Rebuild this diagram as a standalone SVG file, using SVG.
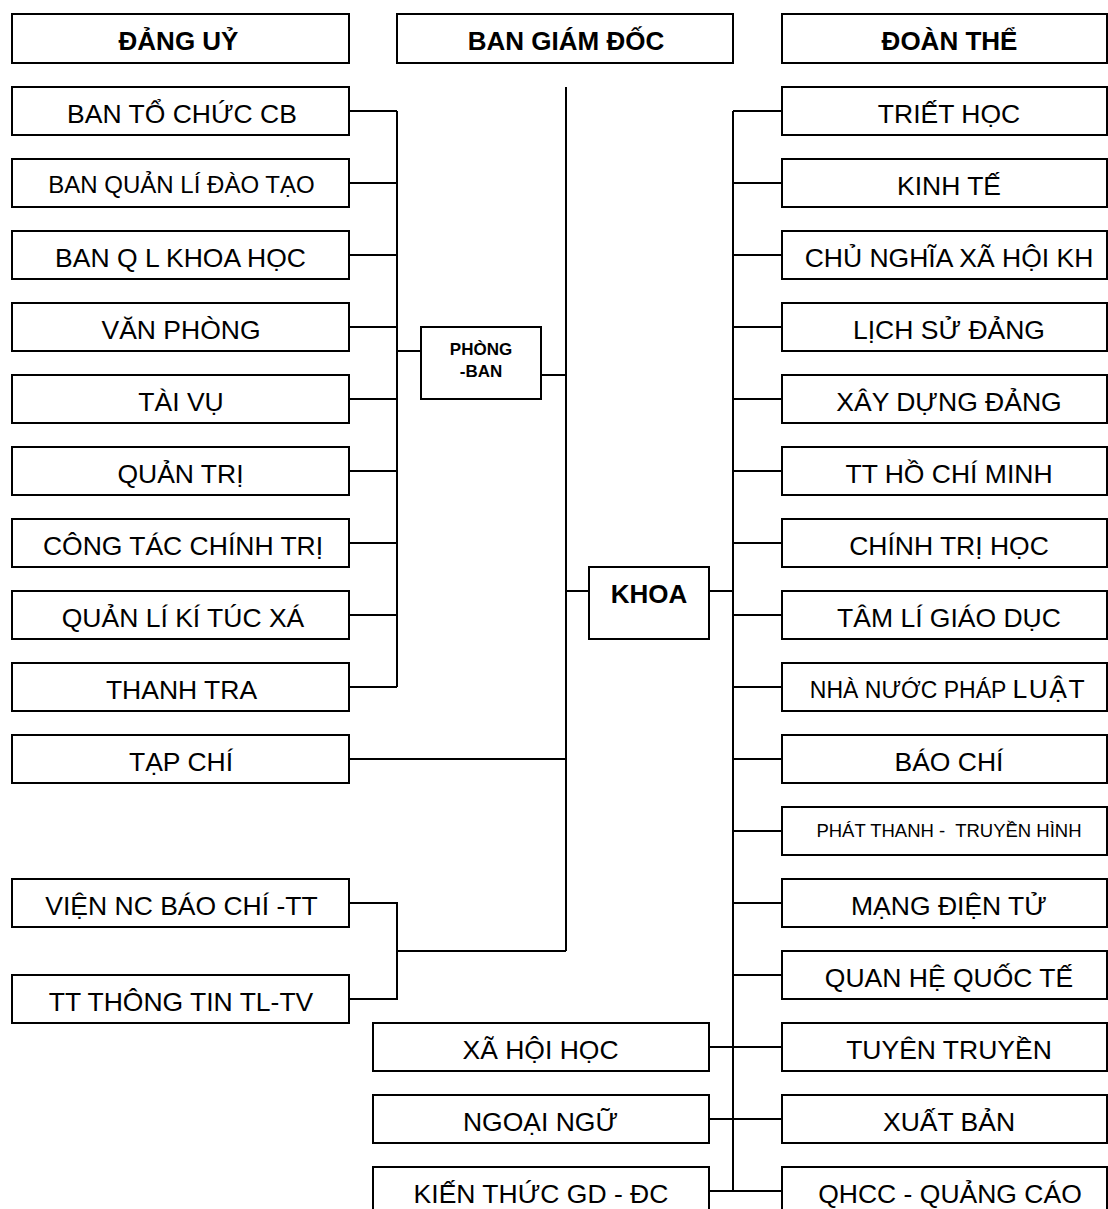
<svg xmlns="http://www.w3.org/2000/svg" width="1108" height="1209" viewBox="0 0 1108 1209">
<style>
.box{fill:#fff;stroke:#000;stroke-width:2}
.ln{fill:none;stroke:#000;stroke-width:2}
text{font-family:"Liberation Sans",Arial,"Noto Sans",sans-serif;font-size:26.5px;text-anchor:middle;fill:#000}
.b{font-weight:bold;font-size:26px}
.s{text-anchor:start}
</style>
<rect width="1108" height="1209" fill="#fff"/>
<g id="connectors">
<path class="ln" d="M397 111V687 M349 111H397 M349 183H397 M349 255H397 M349 327H397 M349 399H397 M349 471H397 M349 543H397 M349 615H397 M349 687H397 M397 351H421 M541 375H566 M566 87V951 M349 759H566 M349 903H397V999H349 M397 951H566 M566 591H589 M709 591H733 M733 111V1191 M733 111H782 M733 183H782 M733 255H782 M733 327H782 M733 399H782 M733 471H782 M733 543H782 M733 615H782 M733 687H782 M733 759H782 M733 831H782 M733 903H782 M733 975H782 M733 1047H782 M733 1119H782 M733 1191H782 M709 1047H733 M709 1119H733 M709 1191H733"/>
</g>
<g id="dang-uy"><rect class="box" x="12" y="14" width="337" height="49"/><text class="b" x="178.5" y="50">ĐẢNG UỶ</text></g>
<g id="ban-giam-doc"><rect class="box" x="397" y="14" width="336" height="49"/><text class="b" x="566" y="50">BAN GIÁM ĐỐC</text></g>
<g id="doan-the"><rect class="box" x="782" y="14" width="325" height="49"/><text class="b" x="949.5" y="50">ĐOÀN THỂ</text></g>
<g id="phong-ban"><rect class="box" x="421" y="327" width="120" height="72"/><text class="b" x="481" y="355" style="font-size:17px">PHÒNG</text><text class="b" x="481" y="377" style="font-size:17px">-BAN</text></g>
<g id="khoa"><rect class="box" x="589" y="567" width="120" height="72"/><text class="b" x="649" y="603">KHOA</text></g>
<g id="ban-to-chuc"><rect class="box" x="12" y="87" width="337" height="48"/><text x="182" y="123">BAN TỔ CHỨC CB</text></g>
<g id="ban-quan-li-dao-tao"><rect class="box" x="12" y="159" width="337" height="48"/><text x="181.5" y="193" style="font-size:24px">BAN QUẢN LÍ ĐÀO TẠO</text></g>
<g id="ban-ql-khoa-hoc"><rect class="box" x="12" y="231" width="337" height="48"/><text x="180.5" y="267">BAN Q L KHOA HỌC</text></g>
<g id="van-phong"><rect class="box" x="12" y="303" width="337" height="48"/><text x="181" y="339">VĂN PHÒNG</text></g>
<g id="tai-vu"><rect class="box" x="12" y="375" width="337" height="48"/><text x="181" y="411">TÀI VỤ</text></g>
<g id="quan-tri"><rect class="box" x="12" y="447" width="337" height="48"/><text x="180.5" y="483">QUẢN TRỊ</text></g>
<g id="cong-tac-chinh-tri"><rect class="box" x="12" y="519" width="337" height="48"/><text x="183" y="555">CÔNG TÁC CHÍNH TRỊ</text></g>
<g id="quan-li-ktx"><rect class="box" x="12" y="591" width="337" height="48"/><text x="183" y="627">QUẢN LÍ KÍ TÚC XÁ</text></g>
<g id="thanh-tra"><rect class="box" x="12" y="663" width="337" height="48"/><text x="181.5" y="699">THANH TRA</text></g>
<g id="tap-chi"><rect class="box" x="12" y="735" width="337" height="48"/><text x="181" y="771">TẠP CHÍ</text></g>
<g id="vien-nc"><rect class="box" x="12" y="879" width="337" height="48"/><text x="181.5" y="915">VIỆN NC BÁO CHÍ -TT</text></g>
<g id="tt-thong-tin"><rect class="box" x="12" y="975" width="337" height="48"/><text x="181" y="1011">TT THÔNG TIN TL-TV</text></g>
<g id="triet-hoc"><rect class="box" x="782" y="87" width="325" height="48"/><text x="949" y="123">TRIẾT HỌC</text></g>
<g id="kinh-te"><rect class="box" x="782" y="159" width="325" height="48"/><text x="949" y="195">KINH TẾ</text></g>
<g id="cnxhkh"><rect class="box" x="782" y="231" width="325" height="48"/><text x="949" y="267">CHỦ NGHĨA XÃ HỘI KH</text></g>
<g id="lich-su-dang"><rect class="box" x="782" y="303" width="325" height="48"/><text x="949" y="339">LỊCH SỬ ĐẢNG</text></g>
<g id="xay-dung-dang"><rect class="box" x="782" y="375" width="325" height="48"/><text x="949" y="411">XÂY DỰNG ĐẢNG</text></g>
<g id="tt-hcm"><rect class="box" x="782" y="447" width="325" height="48"/><text x="949" y="483">TT HỒ CHÍ MINH</text></g>
<g id="chinh-tri-hoc"><rect class="box" x="782" y="519" width="325" height="48"/><text x="949" y="555">CHÍNH TRỊ HỌC</text></g>
<g id="tam-li-giao-duc"><rect class="box" x="782" y="591" width="325" height="48"/><text x="949" y="627">TÂM LÍ GIÁO DỤC</text></g>
<g id="nha-nuoc-phap-luat"><rect class="box" x="782" y="663" width="325" height="48"/><text x="948" y="698"><tspan style="font-size:23px">NHÀ NƯỚC PHÁP </tspan><tspan style="letter-spacing:1.5px">LUẬT</tspan></text></g>
<g id="bao-chi"><rect class="box" x="782" y="735" width="325" height="48"/><text x="949" y="771">BÁO CHÍ</text></g>
<g id="phat-thanh"><rect class="box" x="782" y="807" width="325" height="48"/><text x="949" y="837" style="font-size:18.5px" xml:space="preserve">PHÁT THANH -  TRUYỀN HÌNH</text></g>
<g id="mang-dien-tu"><rect class="box" x="782" y="879" width="325" height="48"/><text x="949" y="915">MẠNG ĐIỆN TỬ</text></g>
<g id="quan-he-quoc-te"><rect class="box" x="782" y="951" width="325" height="48"/><text x="949" y="987">QUAN HỆ QUỐC TẾ</text></g>
<g id="tuyen-truyen"><rect class="box" x="782" y="1023" width="325" height="48"/><text x="949" y="1059">TUYÊN TRUYỀN</text></g>
<g id="xuat-ban"><rect class="box" x="782" y="1095" width="325" height="48"/><text x="949" y="1131">XUẤT BẢN</text></g>
<g id="qhcc"><rect class="box" x="782" y="1167" width="325" height="48"/><text x="950" y="1203">QHCC - QUẢNG CÁO</text></g>
<g id="xa-hoi-hoc"><rect class="box" x="373" y="1023" width="336" height="48"/><text x="540.5" y="1059">XÃ HỘI HỌC</text></g>
<g id="ngoai-ngu"><rect class="box" x="373" y="1095" width="336" height="48"/><text x="540.5" y="1131">NGOẠI NGỮ</text></g>
<g id="kien-thuc"><rect class="box" x="373" y="1167" width="336" height="48"/><text x="541" y="1203">KIẾN THỨC GD - ĐC</text></g>
</svg>
